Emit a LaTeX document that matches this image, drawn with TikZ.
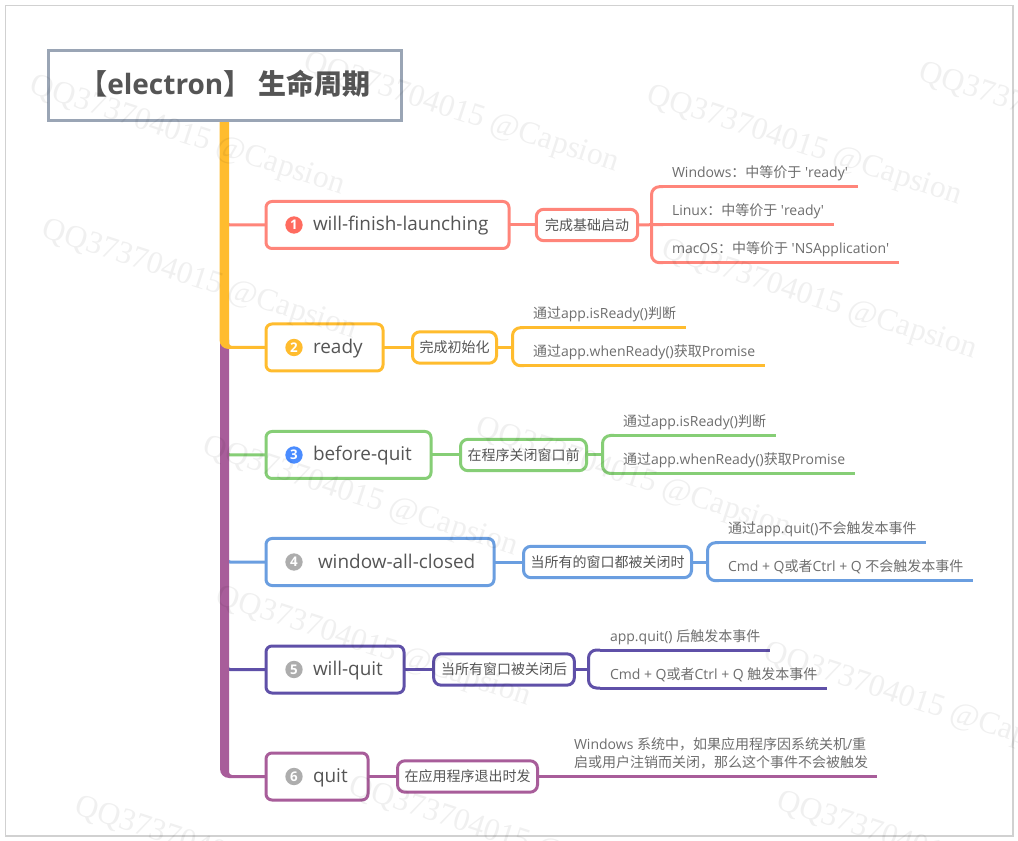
\documentclass[tikz,border=0pt]{standalone}
\usepackage{fontspec}
\setmainfont{Open Sans}
\newfontfamily\cjkf{Noto Sans CJK SC}
\newfontfamily\wmf{Liberation Serif}
\newcommand{\C}[1]{{\cjkf #1}}
\newcommand{\Q}{\textquotesingle}
\definecolor{csal}{HTML}{FF857A}
\definecolor{cyel}{HTML}{FFBC2E}
\definecolor{cgrn}{HTML}{86CE76}
\definecolor{cblu}{HTML}{6A9EE0}
\definecolor{cind}{HTML}{5F50A8}
\definecolor{cpur}{HTML}{A85D9A}
\definecolor{cttl}{HTML}{9AA5B5}
\definecolor{ctxt}{HTML}{555555}
\definecolor{cleaf}{HTML}{6E6E6E}
\definecolor{cred}{HTML}{FF6B5F}
\definecolor{cbbl}{HTML}{4A8CFF}
\newcommand{\evbox}[3]{\makebox[\dimexpr #1*3/4\relax][l]{\hspace*{\dimexpr #2*3/4\relax}#3}}
\newcommand{\lf}[3]{\makebox[\dimexpr #1*3/4\relax][l]{\hspace*{\dimexpr #2*3/4\relax}#3}}
\tikzset{
  x=0.75pt,y=-0.75pt,
  every node/.style={outer sep=0pt},
  ttlbox/.style={draw=cttl,fill=white,line width=2.25pt,minimum width=265pt,minimum height=52.5pt,inner sep=0pt,text height=17pt,text depth=3pt,text=ctxt,font=\fontsize{21}{25}\selectfont\bfseries},
  evnode/.style={draw=#1,line width=2.25pt,rounded corners=4.5pt,minimum height=35.25pt,inner xsep=0pt,inner ysep=0pt,text height=12pt,text depth=3pt,text=ctxt,font=\fontsize{14.2}{17}\selectfont},
  subnode/.style={draw=#1,line width=2.25pt,rounded corners=5.5pt,minimum height=23.5pt,inner xsep=0pt,inner ysep=0pt,text=ctxt,font=\fontsize{10.5}{13}\selectfont},
  leaf/.style={anchor=south west,inner xsep=0pt,inner ysep=3.6pt,text depth=3pt,text height=8pt,text=cleaf,font=\fontsize{10.5}{13}\selectfont},
  badge/.style={circle,fill=#1,text=white,minimum size=13pt,inner sep=0pt,font=\fontsize{10}{10}\selectfont\bfseries},
  wire/.style={draw=#1,line width=2.25pt},
  bracket/.style={draw=#1,line width=2.25pt,rounded corners=6pt},
  wm/.style={anchor=west,inner sep=0pt,rotate=-18,opacity=0.06,text=black,font=\fontsize{23.7}{26}\selectfont\wmf},
}
\begin{document}
\begin{tikzpicture}
\useasboundingbox (0,0) rectangle (1018,841);
\fill[white] (0,0) rectangle (1018,841);
\draw[fill=white,draw=black!18,line width=1pt] (5.5,5.5) rectangle (1013,836);

% main nodes
\node[ttlbox] (title) at (225,85.5) {\C{【}electron\C{】} \C{生命周期}};

\node[evnode=csal] (n1) at (387.5,225) {\evbox{243pt}{47pt}{will-finish-launching}};
\node[evnode=cyel] (n2) at (324.5,347.5) {\evbox{117pt}{47pt}{ready}};
\node[evnode=cgrn] (n3) at (348.5,455) {\evbox{165pt}{47pt}{before-quit}};
\node[evnode=cblu] (n4) at (380,562) {\evbox{228pt}{52pt}{window-all-closed}};
\node[evnode=cind] (n5) at (335,669.5) {\evbox{138pt}{47pt}{will-quit}};
\node[evnode=cpur] (n6) at (317,776.5) {\evbox{102pt}{47pt}{quit}};

\node[badge=cred] (b1) at (294,225) {1};
\node[badge=cyel] (b2) at (294,347.5) {2};
\node[badge=cbbl] (b3) at (294,455) {3};
\node[badge=black!32] (b4) at (294,562) {4};
\node[badge=black!32] (b5) at (294,669.5) {5};
\node[badge=black!32] (b6) at (294,776.5) {6};

\node[subnode=csal,minimum width=76pt] (s1) at (587,225) {\C{完成基础启动}};
\node[subnode=cyel,minimum width=63pt] (s2) at (454.5,347.5) {\C{完成初始化}};
\node[subnode=cgrn,minimum width=94.5pt] (s3) at (523.5,455) {\C{在程序关闭窗口前}};
\node[subnode=cblu,minimum width=126pt] (s4) at (607.5,562) {\C{当所有的窗口都被关闭时}};
\node[subnode=cind,minimum width=105.5pt] (s5) at (504,669.5) {\C{当所有窗口被关闭后}};
\node[subnode=cpur,minimum width=105pt] (s6) at (467.5,776.5) {\C{在应用程序退出时发}};

% leaves
\node[leaf] (l11) at (663,186.7) {\lf{195pt}{9pt}{Windows\C{：中等价于} \Q ready\Q}};
\node[leaf] (l12) at (663,224.7) {\lf{171pt}{9pt}{Linux\C{：中等价于} \Q ready\Q}};
\node[leaf] (l13) at (663,262.7) {\lf{236pt}{9pt}{macOS\C{：中等价于} \Q NSApplication\Q}};
\node[leaf] (l21) at (524,327.7) {\lf{162pt}{9pt}{\C{通过}app.isReady()\C{判断}}};
\node[leaf] (l22) at (524,365.7) {\lf{241pt}{9pt}{\C{通过}app.whenReady()\C{获取}Promise}};
\node[leaf] (l31) at (614,435.5) {\lf{162pt}{9pt}{\C{通过}app.isReady()\C{判断}}};
\node[leaf] (l32) at (614,473.5) {\lf{241pt}{9pt}{\C{通过}app.whenReady()\C{获取}Promise}};
\node[leaf] (l41) at (719,542.7) {\lf{207pt}{9pt}{\C{通过}app.quit()\C{不会触发本事件}}};
\node[leaf] (l42) at (719,580.7) {\lf{254pt}{9pt}{Cmd + Q\C{或者}Ctrl + Q \C{不会触发本事件}}};
\node[leaf] (l51) at (600,650) {\lf{170pt}{10pt}{app.quit() \C{后触发本事件}}};
\node[leaf] (l52) at (600,688) {\lf{227pt}{10pt}{Cmd + Q\C{或者}Ctrl + Q \C{触发本事件}}};
\node[leaf] (l61) at (540.5,776.5) {\lf{336.5pt}{33.5pt}{\parbox[b]{310pt}{\baselineskip=13.5pt Windows \C{系统中，如果应用程序因系统关机}/\C{重}\\\C{启或用户注销而关闭，那么这个事件不会被触发}}}};

% junctions
\coordinate (j1) at (651.5,224.7);
\coordinate (j2) at (512.5,347.5);
\coordinate (j3) at (602.5,455);
\coordinate (j4) at (707.5,562);
\coordinate (j5) at (588.5,669.5);
\coordinate (t1) at (226,219);
\coordinate (t3) at (226,449);
\coordinate (t4) at (226,556);
\coordinate (t5) at (226,663);

% connectors from trunk
\draw[bracket=csal,rounded corners=3pt] (t1) |- (n1.west);
\draw[bracket=cgrn,rounded corners=3pt] (t3) |- (n3.west);
\draw[bracket=cblu,rounded corners=3pt] (t4) |- (n4.west);
\draw[bracket=cind,rounded corners=3pt] (t5) |- (n5.west);

% trunk, purple then yellow
\fill[cpur] (220,340) -- (220,769) arc[start angle=180,end angle=90,radius=9] -- (n6.west |- 0,778) -- (n6.west |- 0,775) -- (232,775) arc[start angle=90,end angle=180,radius=3] -- (229,340) -- cycle;
\fill[cyel] (219.5,121) -- (219.5,340) arc[start angle=180,end angle=90,radius=9] -- (n2.west |- 0,349) -- (n2.west |- 0,346) -- (232,346) arc[start angle=90,end angle=180,radius=3] -- (229,121) -- cycle;
\draw[cttl,line width=2.25pt] (title.south west) -- (title.south east);

% event to sub
\foreach \k/\c in {1/csal,2/cyel,3/cgrn,4/cblu,5/cind,6/cpur}{
  \draw[wire=\c] (n\k.east) -- (s\k.west);
}
% sub to brackets
\draw[wire=csal] (s1.east) -- (j1) -- (l12.south west);
\draw[wire=cyel] (s2.east) -- (j2);
\draw[wire=cgrn] (s3.east) -- (j3);
\draw[wire=cblu] (s4.east) -- (j4);
\draw[wire=cind] (s5.east) -- (j5);
\draw[wire=cpur] (s6.east) -- (l61.south west);
\draw[bracket=csal] (l11.south west) -| (j1) |- (l13.south west);
\draw[bracket=cyel] (l21.south west) -| (j2) |- (l22.south west);
\draw[bracket=cgrn] (l31.south west) -| (j3) |- (l32.south west);
\draw[bracket=cblu] (l41.south west) -| (j4) |- (l42.south west);
\draw[bracket=cind] (l51.south west) -| (j5) |- (l52.south west);
% underlines
\foreach \a/\c in {l11/csal,l12/csal,l13/csal,l21/cyel,l22/cyel,l31/cgrn,l32/cgrn,l41/cblu,l42/cblu,l51/cind,l52/cind,l61/cpur}{
  \draw[wire=\c] (\a.south west) -- (\a.south east);
}

% watermarks
\begin{scope}
\clip (0,0) rectangle (1018,841);
\foreach \i/\x/\y in {1/31/86,2/305/63,3/648/96,4/920/73,5/43/230,6/663/250,7/204/447,8/477/428,9/217/597,10/765/653,11/76/807,12/350/787,13/778/802}{
  \node[wm] (w\i) at (\x,\y) {QQ373704015 @Capsion};
}
\end{scope}
\end{tikzpicture}
\end{document}
